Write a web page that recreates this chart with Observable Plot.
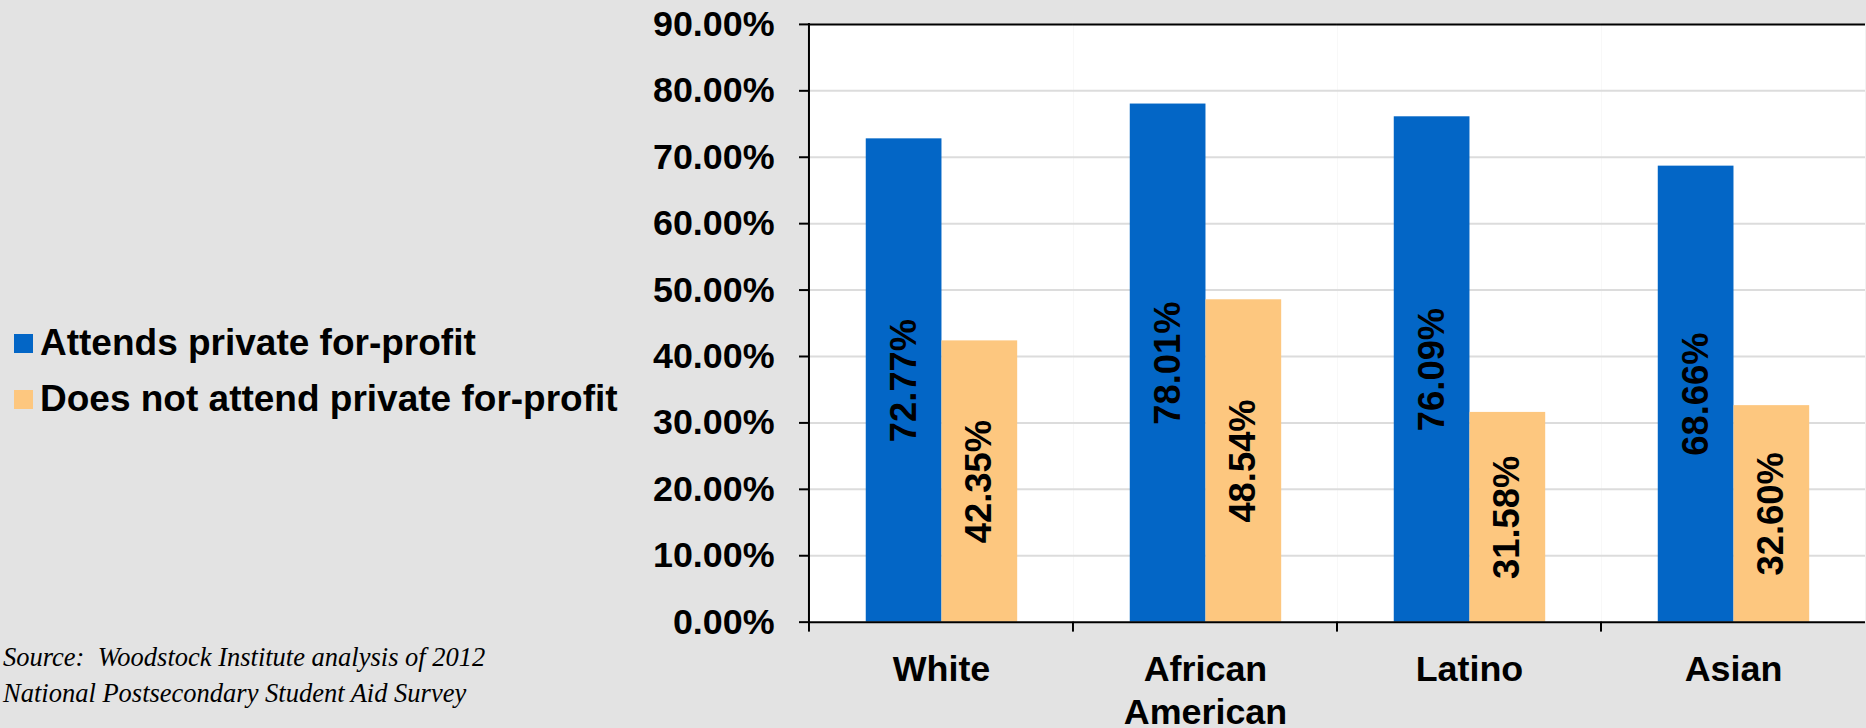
<!DOCTYPE html>
<html>
<head>
<meta charset="utf-8">
<script src="https://cdn.jsdelivr.net/npm/d3@7"></script>
<script src="https://cdn.jsdelivr.net/npm/@observablehq/plot@0.6"></script>
<style>
  html, body { margin: 0; padding: 0; background: #e3e3e3; overflow: hidden; }
  #wrap { position: relative; width: 1866px; height: 728px; overflow: hidden; }
  #chart { position: absolute; left: 0; top: 0; }
  #legend { position: absolute; left: 14px; top: 315px; font-family: "Liberation Sans", Arial, sans-serif; font-weight: bold; font-size: 37px; color: #000; }
  #legend .row { display: flex; align-items: center; height: 56px; white-space: nowrap; }
  #legend .sw { width: 19px; height: 19px; margin-right: 7px; flex: none; }
  #source { position: absolute; left: 3px; top: 639px; font-family: "Liberation Serif", "Times New Roman", serif; font-style: italic; font-size: 26.5px; line-height: 36px; color: #000; white-space: pre; }
</style>
</head>
<body>
<div id="wrap">
  <div id="chart"></div>
  <div id="legend"></div>
  <div id="source"></div>
</div>
<script>
// Share of students by race/ethnicity, split by whether they attend a private for-profit school
const categories = ["White", "African American", "Latino", "Asian"];
const categoryLabels = ["White", "African\nAmerican", "Latino", "Asian"];
const series = ["Attends private for-profit", "Does not attend private for-profit"];
const attends = [72.77, 78.01, 76.09, 68.66];
const notAttends = [42.35, 48.54, 31.58, 32.60];
const seriesColors = ["#0366c6", "#fdc77f"];
const yTicks = [0, 10, 20, 30, 40, 50, 60, 70, 80, 90];
const sourceLines = ["Source:  Woodstock Institute analysis of 2012", "National Postsecondary Student Aid Survey"];

const rows = [];
categories.forEach((c, i) => {
  rows.push({category: c, series: series[0], value: attends[i]});
  rows.push({category: c, series: series[1], value: notAttends[i]});
});

const pct = d => d.toFixed(2) + "%";

const chart = Plot.plot({
  width: 1873,
  height: 728,
  marginLeft: 810,
  marginRight: 0,
  marginTop: 24,
  marginBottom: 104,
  style: {background: "transparent", fontFamily: "'Liberation Sans', Arial, sans-serif", fontSize: "36px", fontWeight: "bold", color: "#000", overflow: "visible"},
  fx: {domain: categories, padding: 0, label: null},
  x: {domain: series, paddingInner: 0, paddingOuter: 0.74, axis: null},
  y: {domain: [0, 90], label: null},
  color: {domain: series, range: seriesColors},
  marks: [
    Plot.frame({fill: "white", stroke: null}),
    Plot.gridY(yTicks.slice(1, -1), {stroke: "#dcdcdc", strokeOpacity: 1, strokeWidth: 2}),
    Plot.barY(rows, {fx: "category", x: "series", y: "value", fill: "series"}),
    Plot.text(rows, {
      fx: "category", x: "series", y: d => d.value / 2,
      text: d => pct(d.value), rotate: -90,
      fontSize: 36.5, fontWeight: "bold", fill: "#000"
    }),
    Plot.ruleY([0, 90], {stroke: "#000", strokeWidth: 2}),
    Plot.axisY(yTicks, {tickSize: 10, tickPadding: 25, tickFormat: pct, stroke: "#000", strokeWidth: 2, fill: "#000", fontSize: 36, fontWeight: "bold", label: null}),
    Plot.axisFx({
      anchor: "bottom", tickSize: 0, tickPadding: 29,
      tickFormat: c => categoryLabels[categories.indexOf(c)],
      fontSize: 36, fontWeight: "bold", fill: "#000", lineHeight: 1.19, label: null
    })
  ]
});
document.getElementById("chart").appendChild(chart);

// Vertical axis line and category boundary ticks, placed from the plot's own scales
const fx = chart.scale("fx");
const y = chart.scale("y");
const svg = d3.select(chart);
const y0 = y.apply(0), y90 = y.apply(90);
const x0 = fx.apply(categories[0]);
svg.append("line")
  .attr("x1", x0).attr("x2", x0).attr("y1", y90 - 1).attr("y2", y0 + 1)
  .attr("stroke", "#000").attr("stroke-width", 2);
categories.forEach(c => {
  const xb = fx.apply(c);
  svg.append("line")
    .attr("x1", xb).attr("x2", xb).attr("y1", y0).attr("y2", y0 + 10)
    .attr("stroke", "#000").attr("stroke-width", 2);
});

// Legend
const legend = d3.select("#legend");
series.forEach((s, i) => {
  const row = legend.append("div").attr("class", "row");
  row.append("div").attr("class", "sw").style("background", seriesColors[i]);
  row.append("span").text(s);
});

// Source note
d3.select("#source").text(sourceLines.join("\n"));
</script>
</body>
</html>
